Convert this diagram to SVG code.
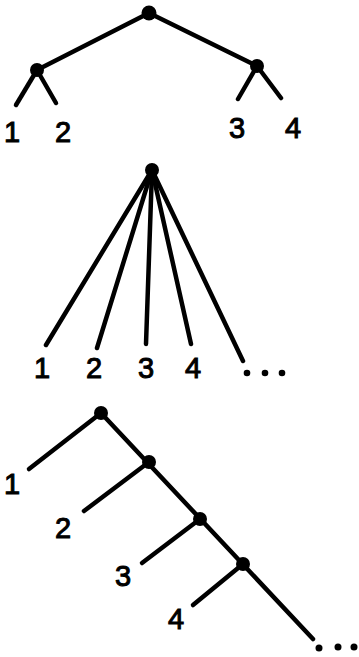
<svg xmlns="http://www.w3.org/2000/svg" width="359" height="657" viewBox="0 0 359 657">
<style>
.e{stroke:#000;stroke-width:4.5;stroke-linecap:round;fill:none}
.n{fill:#000}
.t{font-family:"Liberation Sans",Arial,sans-serif;font-size:29px;fill:#000;stroke:#000;stroke-width:1;text-anchor:middle}
</style>
<rect width="359" height="657" fill="#fff"/>
<g id="connectors">
<line class="e" x1="149" y1="13" x2="37" y2="70"/>
<line class="e" x1="149" y1="13" x2="257" y2="66"/>
<line class="e" x1="37" y1="70" x2="16" y2="105"/>
<line class="e" x1="37" y1="70" x2="56" y2="103"/>
<line class="e" x1="257" y1="66" x2="238" y2="99"/>
<line class="e" x1="257" y1="66" x2="281" y2="98"/>
<line class="e" x1="152" y1="170" x2="46" y2="345"/>
<line class="e" x1="152" y1="170" x2="97" y2="348"/>
<line class="e" x1="152" y1="170" x2="146" y2="344"/>
<line class="e" x1="152" y1="170" x2="191" y2="344"/>
<line class="e" x1="152" y1="170" x2="243" y2="361"/>
<line class="e" x1="101" y1="413" x2="29" y2="469"/>
<line class="e" x1="101" y1="413" x2="313" y2="639"/>
<line class="e" x1="149" y1="462" x2="84" y2="511"/>
<line class="e" x1="200" y1="519" x2="142" y2="563"/>
<line class="e" x1="243" y1="564" x2="193" y2="605"/>
</g>
<g id="node-top-root"><circle class="n" cx="149" cy="13" r="7.5"/></g>
<g id="node-top-left"><circle class="n" cx="37" cy="70" r="7"/></g>
<g id="node-top-right"><circle class="n" cx="257" cy="66" r="7"/></g>
<g id="labels-top">
<text class="t" x="12" y="142">1</text>
<text class="t" x="63" y="142">2</text>
<text class="t" x="237" y="138">3</text>
<text class="t" x="293" y="138">4</text>
</g>
<g id="node-mid-root"><circle class="n" cx="152" cy="170" r="7"/></g>
<g id="labels-mid">
<text class="t" x="42" y="378">1</text>
<text class="t" x="94" y="378">2</text>
<text class="t" x="146" y="378">3</text>
<text class="t" x="193" y="378">4</text>
<circle class="n" cx="247" cy="373" r="3.3"/>
<circle class="n" cx="265" cy="373" r="3.3"/>
<circle class="n" cx="282" cy="373" r="3.3"/>
</g>
<g id="node-b1"><circle class="n" cx="101" cy="413" r="7"/></g>
<g id="node-b2"><circle class="n" cx="149" cy="462" r="7"/></g>
<g id="node-b3"><circle class="n" cx="200" cy="519" r="7"/></g>
<g id="node-b4"><circle class="n" cx="243" cy="564" r="7"/></g>
<g id="labels-bottom">
<text class="t" x="12" y="494">1</text>
<text class="t" x="63" y="538">2</text>
<text class="t" x="123" y="586">3</text>
<text class="t" x="176" y="629">4</text>
<circle class="n" cx="319" cy="648" r="3.5"/>
<circle class="n" cx="338" cy="647" r="3.5"/>
<circle class="n" cx="354" cy="647" r="3.5"/>
</g>
</svg>
